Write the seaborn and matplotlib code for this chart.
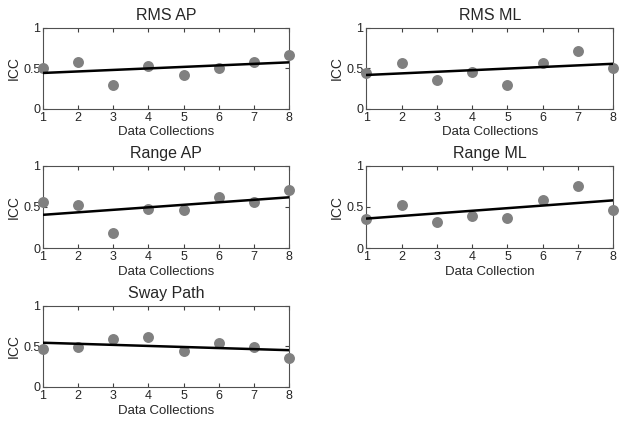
import numpy as np
import pandas as pd
import seaborn as sns
from matplotlib import pyplot as plt

sessions = [1, 2, 3, 4, 5, 6, 7, 8]
rms_ap = [0.51, 0.58, 0.29, 0.53, 0.42, 0.50, 0.58, 0.66]
rms_ml = [0.44, 0.57, 0.36, 0.45, 0.29, 0.57, 0.71, 0.51]
range_ap = [0.56, 0.52, 0.18, 0.48, 0.46, 0.62, 0.56, 0.71]
range_ml = [0.36, 0.52, 0.32, 0.39, 0.37, 0.58, 0.76, 0.46]
sway_path = [0.47, 0.49, 0.59, 0.62, 0.44, 0.54, 0.49, 0.36]

titles = ['RMS AP', 'RMS ML', 'Range AP', 'Range ML', 'Sway Path']
xlabels = ['Data Collections', 'Data Collections', 'Data Collections',
           'Data Collection', 'Data Collections']
series = [rms_ap, rms_ml, range_ap, range_ml, sway_path]

sns.set_style('ticks')
plt.rcParams['font.family'] = ['Liberation Sans', 'DejaVu Sans']

fig = plt.figure(figsize=(6.24, 4.22), dpi=100)
# left, bottom, width, height in figure fractions
boxes = [(0.069, 0.742, 0.394, 0.192), (0.587, 0.742, 0.396, 0.192),
         (0.069, 0.412, 0.394, 0.195), (0.587, 0.412, 0.396, 0.195),
         (0.069, 0.083, 0.394, 0.192)]

for box, title, xl, vals in zip(boxes, titles, xlabels, series):
    ax = fig.add_axes(box)
    df = pd.DataFrame({'session': sessions, 'icc': vals})
    sns.regplot(data=df, x='session', y='icc', ax=ax, ci=None, truncate=True,
                scatter_kws={'s': 62, 'color': '#808080', 'alpha': 1,
                             'linewidths': 0, 'clip_on': False, 'zorder': 3},
                line_kws={'color': 'black', 'lw': 1.8, 'zorder': 4})
    ax.set_xlim(1, 8)
    ax.set_ylim(0, 1)
    ax.set_xticks(sessions)
    ax.set_yticks([0, 0.5, 1])
    ax.set_yticklabels(['0', '0.5', '1'])
    ax.tick_params(direction='in', top=True, right=True, length=3, width=0.8,
                   labelsize=9, color='#404040', pad=2)
    for sp in ax.spines.values():
        sp.set_visible(True)
        sp.set_color('#505050')
        sp.set_linewidth(0.8)
    ax.set_title(title, fontsize=11.5, pad=6)
    ax.set_xlabel(xl, fontsize=9.5, labelpad=2)
    ax.set_ylabel('ICC', fontsize=10, labelpad=2)

fig.savefig('out.png', dpi=100)
